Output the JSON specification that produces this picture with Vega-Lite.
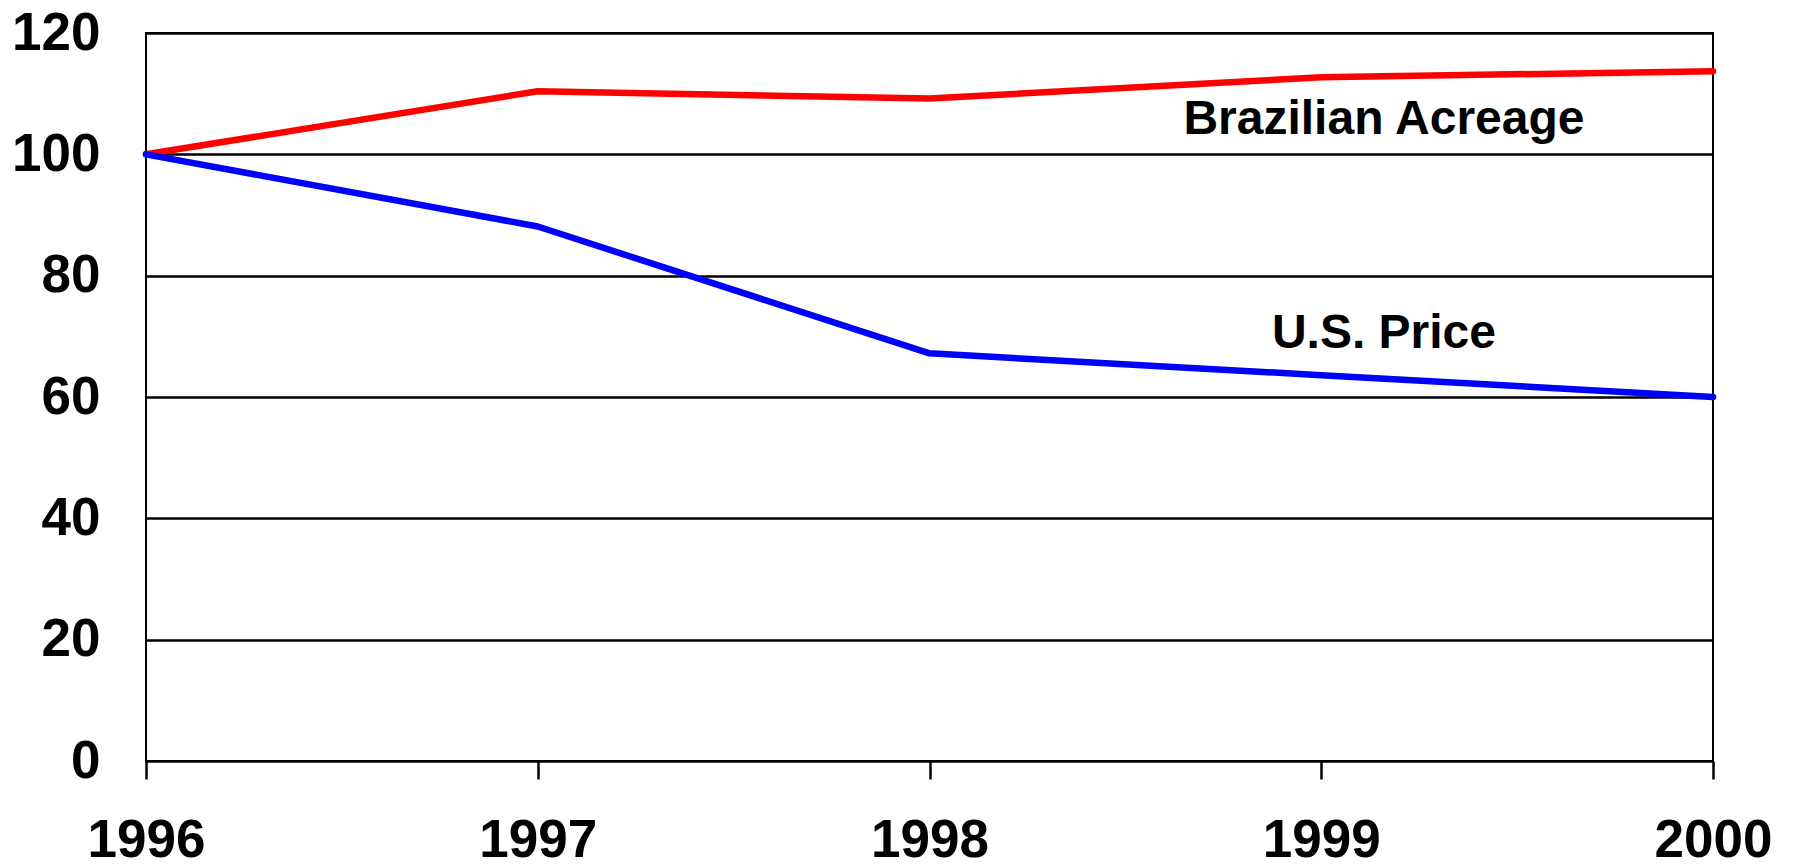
{
  "$schema": "https://vega.github.io/schema/vega-lite/v6.json",
  "width": 1567,
  "height": 728,
  "autosize": {"type": "none"},
  "padding": {"left": 146, "top": 33, "right": 81, "bottom": 106},
  "background": "white",
  "config": {
    "view": {"stroke": "black", "strokeWidth": 2},
    "font": "Liberation Sans"
  },
  "datasets": {
    "lines": [
      {"year": 1996, "series": "Brazilian Acreage", "value": 100},
      {"year": 1997, "series": "Brazilian Acreage", "value": 110.4},
      {"year": 1998, "series": "Brazilian Acreage", "value": 109.2},
      {"year": 1999, "series": "Brazilian Acreage", "value": 112.7},
      {"year": 2000, "series": "Brazilian Acreage", "value": 113.7},
      {"year": 1996, "series": "U.S. Price", "value": 100},
      {"year": 1997, "series": "U.S. Price", "value": 88.1},
      {"year": 1998, "series": "U.S. Price", "value": 67.2},
      {"year": 1999, "series": "U.S. Price", "value": 63.6},
      {"year": 2000, "series": "U.S. Price", "value": 60}
    ],
    "labels": [
      {"label": "Brazilian Acreage", "year": 1999.16, "value": 103.4},
      {"label": "U.S. Price", "year": 1999.16, "value": 68.1}
    ]
  },
  "layer": [
    {
      "data": {"name": "lines"},
      "mark": {"type": "line", "strokeWidth": 6.5, "strokeCap": "round", "strokeJoin": "round"},
      "encoding": {
        "x": {
          "field": "year", "type": "quantitative",
          "scale": {"domain": [1996, 2000], "nice": false, "zero": false},
          "axis": {
            "title": null, "values": [1996, 1997, 1998, 1999, 2000], "format": "d",
            "grid": false, "domain": false,
            "ticks": true, "tickSize": 18, "tickColor": "black", "tickWidth": 2.5,
            "labelFont": "Liberation Sans", "labelFontWeight": "bold", "labelFontSize": 53,
            "labelColor": "black", "labelPadding": 35, "labelFlush": false, "labelOverlap": false
          }
        },
        "y": {
          "field": "value", "type": "quantitative",
          "scale": {"domain": [0, 120], "nice": false},
          "axis": {
            "title": null, "values": [0, 20, 40, 60, 80, 100, 120],
            "grid": true, "gridColor": "black", "gridWidth": 2.5, "gridOpacity": 1,
            "domain": false, "ticks": false,
            "labelFont": "Liberation Sans", "labelFontWeight": "bold", "labelFontSize": 53,
            "labelColor": "black", "labelPadding": 46, "labelFlush": false, "labelOverlap": false
          }
        },
        "color": {
          "field": "series", "type": "nominal",
          "scale": {"domain": ["Brazilian Acreage", "U.S. Price"], "range": ["#FF0000", "#0000FF"]},
          "legend": null
        }
      }
    },
    {
      "data": {"name": "labels"},
      "mark": {"type": "text", "font": "Liberation Sans", "fontWeight": "bold", "fontSize": 48, "align": "center", "baseline": "alphabetic", "color": "black"},
      "encoding": {
        "x": {"field": "year", "type": "quantitative"},
        "y": {"field": "value", "type": "quantitative"},
        "text": {"field": "label"}
      }
    }
  ]
}
